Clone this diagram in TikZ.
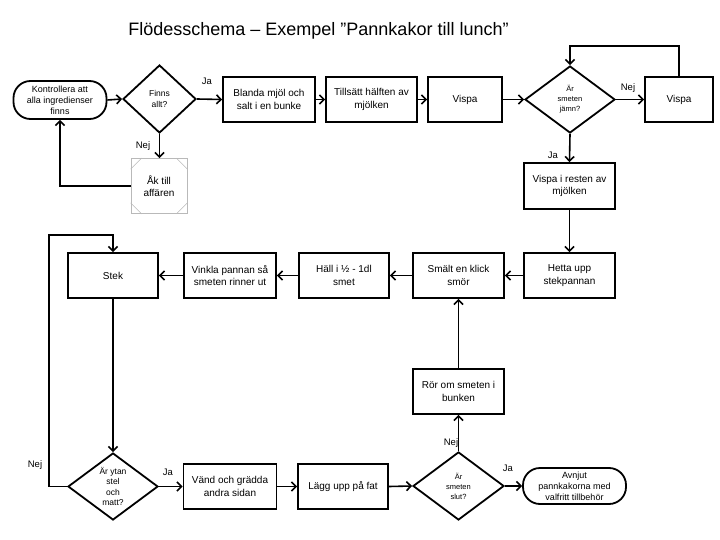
\documentclass[tikz,border=0pt]{standalone}
\usepackage{fontspec}
\setmainfont{Liberation Sans}
\usetikzlibrary{shapes.geometric,arrows.meta}
\begin{document}
\begin{tikzpicture}[x=1pt,y=-1pt,
  >={Straight Barb[length=4.5pt,width=9pt]},
  conn/.style={->,line width=1.6pt},
  stepbox/.style={draw,line width=1.8pt,minimum width=#1,minimum height=45pt,inner sep=1pt,align=center,font=\fontsize{10}{12.5}\selectfont},
  stepbox/.default=91pt,
  decide/.style={draw,diamond,line width=1.8pt,inner sep=0pt,align=center,font=\fontsize{7.5}{10}\selectfont},
  term/.style={draw,line width=1.8pt,rounded corners=17pt,inner sep=1pt,align=center,font=\fontsize{9}{10.8}\selectfont},
  lbl/.style={font=\fontsize{9.5}{11}\selectfont,inner sep=0pt}]
\useasboundingbox (0,0) rectangle (720,540);
\node[font=\fontsize{18}{20}\selectfont] (title) at (318.5,31) {Flödesschema – Exempel ”Pannkakor till lunch”};
% top row
\node[term,minimum width=93pt,minimum height=38pt] (start) at (60,100) {Kontrollera att\\alla ingredienser\\finns};
\node[decide,minimum width=73pt,minimum height=68pt,font=\fontsize{8.5}{11}\selectfont] (finns) at (159.5,99) {Finns\\allt?};
\node[stepbox=92pt] (blanda) at (269,99.5) {Blanda mjöl och\\salt i en bunke};
\node[stepbox=91pt] (tills) at (371.5,99.5) {Tillsätt hälften av\\mjölken};
\node[stepbox=74pt] (vispa1) at (465,99.5) {Vispa};
\node[decide,minimum width=90pt,minimum height=67pt] (jamn) at (570,99.5) {Är\\smeten\\jämn?};
\node[stepbox=68pt] (vispa2) at (679,99.5) {Vispa};
\node[draw=gray!55,line width=0.8pt,minimum width=56pt,minimum height=55pt,align=center,font=\fontsize{10}{12.5}\selectfont] (ak) at (159,186) {Åk till\\affären};
\draw[gray!55,line width=0.6pt] (ak.north west) ++(0,11) -- ++(11,-11);
\draw[gray!55,line width=0.6pt] (ak.north east) ++(0,11) -- ++(-11,-11);
\draw[gray!55,line width=0.6pt] (ak.south west) ++(0,-11) -- ++(11,11);
\draw[gray!55,line width=0.6pt] (ak.south east) ++(0,-11) -- ++(-11,11);
\node[stepbox=91pt,minimum height=46pt] (resten) at (569.5,186) {Vispa i resten av\\mjölken};
% middle row
\node[stepbox=91pt] (hetta) at (569.5,275.5) {Hetta upp\\stekpannan};
\node[stepbox=91pt] (smalt) at (458.5,275.5) {Smält en klick\\smör};
\node[stepbox=90pt] (hall) at (344,275.5) {Häll i ½ - 1dl\\smet};
\node[stepbox=92pt] (vinkla) at (230,275.5) {Vinkla pannan så\\smeten rinner ut};
\node[stepbox=90pt] (stek) at (113,275.5) {Stek};
\node[stepbox=91pt] (rorom) at (458.5,391.5) {Rör om smeten i\\bunken};
% bottom row
\node[decide,minimum width=90pt,minimum height=67pt,font=\fontsize{8.5}{10.5}\selectfont] (ytan) at (113,486.5) {Är ytan\\stel\\och\\matt?};
\node[stepbox=93pt] (vand) at (230,486.5) {Vänd och grädda\\andra sidan};
\node[stepbox=90pt] (lagg) at (343,486.5) {Lägg upp på fat};
\node[decide,minimum width=91pt,minimum height=68pt] (slut) at (458.5,486) {Är\\smeten\\slut?};
\node[term,minimum width=103pt,minimum height=36pt] (avnjut) at (574.5,486) {Avnjut\\pannkakorna med\\valfritt tillbehör};
\coordinate (lp1) at (49,235);
% connectors
\draw[conn] (start.east) -- (finns.west);
\draw[conn] (finns.east) -- (blanda.west);
\draw[conn] (blanda.east) -- (tills.west);
\draw[conn] (tills.east) -- (vispa1.west);
\draw[conn] (vispa1.east) -- (jamn.west);
\draw[conn] (jamn.east) -- (vispa2.west);
\draw[conn] (vispa2.north) -- ++(0,-30) -| (jamn.north);
\draw[conn] (finns.south) -- (finns.south |- ak.north);
\draw[conn] (ak.west) -| (start.south);
\draw[conn] (jamn.south) -- (resten.north);
\draw[conn] (resten.south) -- (hetta.north);
\draw[conn] (hetta.west) -- (smalt.east);
\draw[conn] (smalt.west) -- (hall.east);
\draw[conn] (hall.west) -- (vinkla.east);
\draw[conn] (vinkla.west) -- (stek.east);
\draw[conn] (stek.south) -- (ytan.north);
\draw[conn] (ytan.west) -| (lp1) -| (stek.north);
\draw[conn] (ytan.east) -- (vand.west);
\draw[conn] (vand.east) -- (lagg.west);
\draw[conn] (lagg.east) -- (slut.west);
\draw[conn] (slut.east) -- (avnjut.west);
\draw[conn] (slut.north) -- (rorom.south);
\draw[conn] (rorom.north) -- (smalt.south);
% labels
\node[lbl] (l1) at (207,81) {Ja};
\node[lbl] (l2) at (143,146) {Nej};
\node[lbl] (l3) at (628,88) {Nej};
\node[lbl] (l4) at (553,155) {Ja};
\node[lbl] (l5) at (35,465) {Nej};
\node[lbl] (l6) at (168,472) {Ja};
\node[lbl] (l7) at (451,443) {Nej};
\node[lbl] (l8) at (508,468) {Ja};
\end{tikzpicture}
\end{document}
